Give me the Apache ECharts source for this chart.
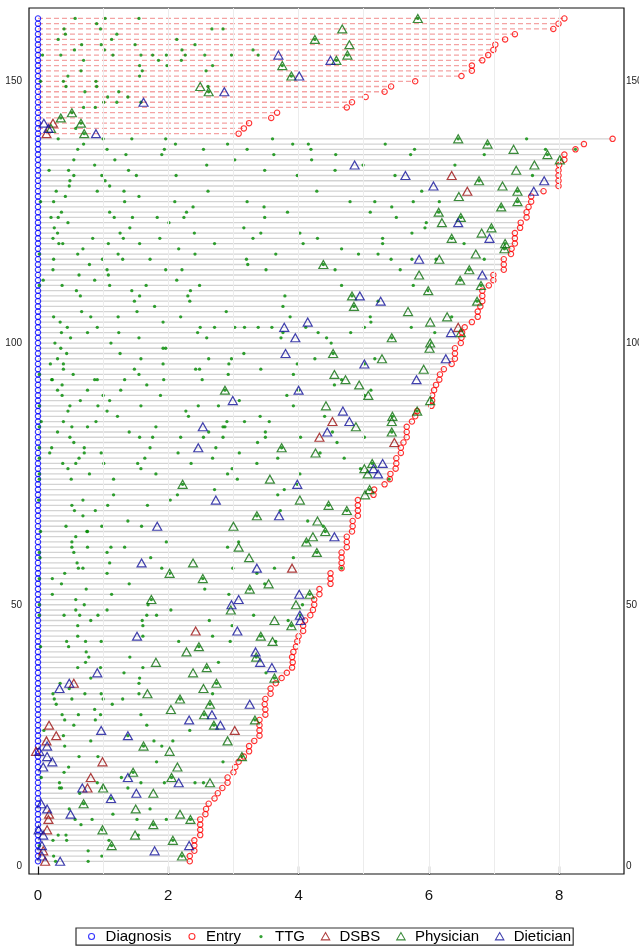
<!DOCTYPE html>
<html>
<head>
<meta charset="utf-8">
<script src="https://cdn.jsdelivr.net/npm/echarts@6/dist/echarts.min.js"></script>
<style>
  html, body { margin: 0; padding: 0; background: #fff; overflow: hidden; }
  #chart { width: 639px; height: 946px; }
</style>
</head>
<body>
<div id="chart"></div>
<script>
// Years from diagnosis to study entry, one value per patient row (row 1 at the bottom).
const entryYears = [
  2.33, 2.33, 2.40, 2.40, 2.40, 2.49, 2.49, 2.49, 2.49, 2.57,
  2.58, 2.62, 2.71, 2.76, 2.83, 2.91, 2.91, 3.00, 3.03, 3.08,
  3.16, 3.24, 3.24, 3.32, 3.40, 3.40, 3.40, 3.40, 3.49, 3.49,
  3.48, 3.49, 3.57, 3.57, 3.65, 3.74, 3.82, 3.90, 3.91, 3.90,
  3.92, 3.96, 3.98, 4.00, 4.07, 4.07, 4.10, 4.18, 4.22, 4.24,
  4.24, 4.32, 4.32, 4.49, 4.49, 4.49, 4.66, 4.66, 4.66, 4.66,
  4.74, 4.74, 4.74, 4.82, 4.83, 4.83, 4.91, 4.91, 4.91, 4.91,
  5.15, 5.16, 5.32, 5.40, 5.41, 5.49, 5.50, 5.50, 5.57, 5.57,
  5.61, 5.66, 5.66, 5.66, 5.74, 5.79, 5.82, 6.04, 6.05, 6.05,
  6.08, 6.11, 6.16, 6.17, 6.23, 6.35, 6.40, 6.40, 6.40, 6.49,
  6.50, 6.51, 6.55, 6.66, 6.75, 6.75, 6.79, 6.82, 6.82, 6.82,
  6.92, 6.99, 6.99, 7.15, 7.15, 7.15, 7.26, 7.27, 7.32, 7.32,
  7.32, 7.40, 7.41, 7.50, 7.50, 7.53, 7.57, 7.57, 7.76, 7.99,
  7.99, 7.99, 7.99, 8.00, 8.08, 8.08, 8.25, 8.38, 8.82,
  3.08, 3.16, 3.24, 3.58, 3.67, 4.74, 4.82, 5.03, 5.32, 5.42, 5.79,
  6.50, 6.66, 6.66, 6.82, 6.91, 6.99, 7.02, 7.17, 7.32, 7.91, 7.99, 8.08
];

// Every patient is aligned on the date of diagnosis.
const diagnosisYear = 0;

// Rows from this one upward form the second cohort (dashed follow-up lines).
const secondCohortFirstRow = 140;

// TTG measurements: [row, years...]
const ttgByRow = [
  [162, 0.57, 1.03, 1.55, 5.83], [161, 0.90], [160, 0.40, 0.96, 2.67, 2.84],
  [159, 0.42, 1.21], [158, 0.31, 1.13, 2.13, 4.25], [157, 0.67, 0.97, 1.49, 2.41],
  [156, 0.56, 1.02, 2.21, 3.30],
  [155, 0.07, 0.35, 1.15, 1.58, 1.76, 1.97, 2.26, 2.56, 2.97, 3.38, 4.75],
  [154, 0.70, 1.85, 2.20, 4.58], [153, 1.56, 1.98, 2.68, 3.75], [152, 0.66, 1.60, 2.58],
  [151, 0.46, 1.56, 3.89], [150, 0.04, 0.39, 0.89], [149, 0.43, 0.90, 2.61],
  [148, 0.72, 1.24, 2.62], [147, 1.07, 1.38], [146, 1.01, 1.21, 1.58], [145, 0.70, 0.88],
  [144, 0.52], [143, 0.35], [142, 0.66], [141, 0.58], [140, 0.71],
  [139, 0.31, 1.00, 1.44, 1.96, 3.60, 6.45, 7.50],
  [138, 0.70, 2.11, 2.91, 3.91, 4.15, 5.33, 6.90],
  [137, 0.61, 1.06, 1.94, 2.54, 3.21, 4.19, 5.78, 7.79, 8.25],
  [136, 1.35, 1.90, 3.62, 4.57, 5.72, 6.85, 7.82],
  [135, 0.55, 1.18, 3.02, 4.20, 8.01], [134, 0.87, 2.59, 4.99, 6.40],
  [133, 0.17, 0.47, 1.39, 3.48, 4.56],
  [132, 0.55, 0.98, 1.51, 2.12, 3.98, 5.48, 7.59],
  [131, 0.49, 1.03, 6.77], [130, 0.48, 1.10],
  [129, 0.28, 0.91, 1.32, 2.61, 4.28, 5.89, 7.36], [128, 0.42, 1.55],
  [127, 0.04, 0.24, 1.33, 2.10, 3.21, 4.79, 5.17, 5.76, 6.16, 7.36],
  [126, 2.38, 3.47, 5.43, 7.11], [125, 0.36, 1.10, 2.28, 3.83, 5.10, 6.15],
  [124, 0.20, 0.31, 1.17, 1.45, 1.83, 2.24, 3.48, 5.50, 6.49],
  [123, 0.46, 2.01, 5.96], [122, 0.25, 1.41, 3.16, 5.94, 6.96],
  [121, 0.30, 1.26, 2.40, 3.42, 4.02, 5.74],
  [120, 0.23, 0.84, 1.31, 1.87, 3.30, 4.29, 5.29, 6.35],
  [119, 0.32, 0.38, 1.08, 1.56, 2.71, 4.07, 5.29, 6.54, 7.17],
  [118, 0.69, 2.16, 4.66, 7.16], [117, 0.02, 0.61, 1.23, 2.41, 3.65, 4.92, 5.22],
  [116, 0.24, 0.99, 1.30, 1.72, 3.20, 5.42, 5.74, 6.11, 6.85],
  [115, 0.79, 3.22, 4.38], [114, 0.23, 1.06, 1.96, 2.21, 3.50, 4.56, 5.56, 6.62],
  [113, 0.63, 1.08], [112, 0.08, 0.87, 2.13, 6.48],
  [111, 0.02, 0.37, 1.10, 1.66, 2.48, 4.66, 5.76, 6.80],
  [110, 0.59, 1.44, 2.34, 5.99], [109, 0.65, 1.56, 2.30, 3.79, 4.82],
  [108, 1.48, 2.33, 5.22, 6.74], [107, 1.79, 3.76, 4.85], [106, 0.67, 1.52, 2.89],
  [105, 0.24, 0.81, 1.23, 2.19, 3.87, 5.10, 6.35], [104, 0.34, 1.92, 5.11],
  [103, 0.45, 0.91, 2.49, 2.71, 3.02, 3.17, 3.38, 3.59, 4.11, 5.01, 5.73],
  [102, 0.36, 0.76, 1.24, 2.45, 3.76, 4.30, 4.80, 6.09],
  [101, 0.50, 1.55, 2.59, 3.73, 4.43, 5.43], [100, 0.26, 1.12, 4.50, 6.02],
  [99, 0.35, 1.92, 1.96], [98, 0.44, 1.26, 3.16, 4.53],
  [97, 0.30, 1.58, 2.62, 2.97, 4.25, 5.17], [96, 0.19, 0.39, 1.92, 2.93, 3.98, 5.01],
  [95, 0.39, 1.48, 2.42, 2.48, 3.42], [94, 0.02, 0.54, 1.55, 2.92, 3.92],
  [93, 0.21, 0.22, 0.87, 0.91, 1.33, 1.93, 2.52, 4.66], [92, 0.37, 1.67, 4.55],
  [91, 0.30, 0.76, 1.27, 2.87, 4.00, 5.11], [90, 0.37, 1.00, 1.88, 3.82, 5.01],
  [89, 0.65, 1.10, 3.09, 6.02], [88, 0.02, 0.49, 0.92, 1.58, 2.46, 2.77, 3.92],
  [87, 0.46, 1.06, 2.27, 5.82], [86, 1.22, 2.31, 3.41, 4.40, 5.44],
  [85, 0.05, 0.39, 0.89, 2.90, 3.17, 3.55], [84, 0.02, 0.52, 0.76, 1.81, 2.84, 2.87],
  [83, 0.30, 1.40, 2.62, 3.49, 4.52, 5.43],
  [82, 0.49, 1.56, 1.76, 2.19, 2.54, 2.84, 3.49, 4.03, 5.01],
  [81, 0.55, 3.37, 4.59], [80, 0.02, 0.21, 0.71, 1.72, 2.73, 3.74],
  [79, 0.18, 0.71, 0.97, 2.15, 3.09, 4.33], [78, 0.02, 0.63, 1.64, 2.68, 3.68, 4.70],
  [77, 0.38, 0.58, 1.01, 1.53, 2.35, 3.36, 5.13], [76, 0.46, 1.58, 2.98, 4.95],
  [75, 0.02, 0.79, 1.81, 2.91, 4.02], [74, 0.02, 0.51, 1.16, 3.06, 5.39],
  [73, 2.22, 3.98], [72, 2.71, 3.78, 5.09], [71, 1.16, 2.14, 3.68], [70, 0.01, 0.69, 2.03],
  [69, 0.52, 1.07, 1.68, 4.46], [68, 0.56, 0.88, 3.72, 4.74], [67, 0.69, 3.36],
  [66, 1.38, 4.14], [65, 0.43, 0.98, 1.59, 4.38], [64, 0.04, 0.75, 0.76, 4.41],
  [63, 0.58], [62, 0.52, 1.97, 3.08, 4.12], [61, 0.52, 0.76, 1.12, 1.33, 2.91],
  [60, 0.02, 0.55, 1.06, 4.28], [59, 0.03, 1.73, 3.92], [58, 0.60, 1.10],
  [57, 0.62, 0.69, 1.90, 2.99, 3.63, 4.66], [56, 0.41, 1.06, 2.02, 3.36],
  [55, 0.02, 0.22, 2.53], [54, 0.36, 1.40, 3.48], [53, 0.74, 2.56, 3.25],
  [52, 0.22, 1.13, 2.93, 4.17], [51, 0.58, 1.74], [50, 0.02, 0.71, 1.69, 4.06],
  [49, 0.58, 1.06, 2.04], [48, 0.02, 0.40, 0.64, 0.92, 1.67, 1.82, 3.31, 4.02],
  [47, 0.81, 1.60, 2.63, 3.84], [46, 0.61, 1.61, 2.98, 3.89], [44, 0.61, 1.61, 2.68, 3.42],
  [43, 0.44, 0.73, 0.97, 2.16, 2.95, 3.65], [42, 0.04, 0.47, 2.47], [41, 0.74],
  [40, 0.78, 1.41, 3.35], [39, 0.73, 2.77], [38, 0.61, 0.96, 1.61, 2.59], [37, 1.32, 3.50],
  [36, 0.81, 1.56, 3.63], [35, 0.34, 1.55, 2.74], [34, 0.48],
  [33, 0.23, 0.72, 0.97, 1.55, 2.68], [32, 0.25, 0.52, 1.00, 1.30, 2.18],
  [31, 0.28, 1.14, 2.64], [30, 0.87], [29, 0.37, 0.62, 0.96, 1.58, 2.55],
  [28, 0.41, 0.88, 3.33], [27, 0.55, 1.67, 2.70], [26, 0.09, 2.33], [25, 0.39, 1.38],
  [24, 0.81, 1.78, 2.07], [23, 0.41, 1.62, 1.90], [21, 0.63, 0.92, 3.13], [20, 1.82, 2.84],
  [19, 0.47], [18, 0.40, 1.46], [17, 0.05, 1.28, 2.05], [16, 0.33, 0.91, 1.58, 1.94, 2.41, 2.54],
  [15, 0.33, 0.36, 1.00, 1.38], [14, 0.64], [13, 1.12], [12, 0.70], [11, 0.48, 1.72],
  [10, 1.15], [9, 0.57, 0.83, 1.52, 1.97, 2.34], [8, 0.66, 1.77], [7, 0.99],
  [6, 0.31, 0.43, 1.54], [5, 0.23, 0.44, 1.09, 2.07], [4, 0.02, 1.13], [3, 0.77],
  [2, 0.24, 0.98, 2.21], [1, 0.27, 0.77]
];

// Visits: [years, row]
const dsbsVisits = [
  [0.13, 140], [0.23, 142], [6.35, 132], [6.59, 129], [6.45, 103], [4.52, 85], [4.32, 82],
  [5.47, 81], [3.90, 57], [2.42, 45], [0.55, 35], [0.17, 27], [3.02, 26], [0.28, 25],
  [0.13, 24], [-0.03, 22], [0.99, 20], [0.81, 17], [0.76, 15], [0.17, 10], [0.16, 9],
  [0.14, 7], [0.08, 3], [0.11, 1]
];

const physicianVisits = [
  [5.83, 162], [4.67, 160], [4.25, 158], [4.78, 157], [4.75, 155], [4.58, 154], [3.75, 153],
  [3.89, 151], [2.49, 149], [2.62, 148], [0.52, 144], [0.35, 143], [0.66, 142], [0.20, 141],
  [0.71, 140], [6.45, 139], [6.90, 138], [7.30, 137], [7.82, 136], [8.01, 135], [7.62, 134],
  [7.34, 133], [6.77, 131], [7.13, 130], [7.36, 129], [6.46, 128], [7.36, 127], [7.11, 126],
  [6.15, 125], [6.49, 124], [6.20, 123], [6.96, 122], [6.81, 121], [6.35, 120], [7.17, 119],
  [7.16, 118], [6.72, 117], [6.16, 116], [4.38, 115], [6.62, 114], [5.85, 113], [6.48, 112],
  [6.80, 111], [5.99, 110], [4.82, 109], [6.74, 108], [4.85, 107], [5.68, 106], [6.28, 105],
  [6.02, 104], [6.49, 102], [5.43, 101], [6.02, 100], [6.01, 99], [4.53, 98], [5.28, 97],
  [5.92, 95], [4.55, 94], [4.72, 93], [4.93, 92], [2.87, 91], [5.07, 90], [6.02, 89],
  [4.42, 88], [5.82, 87], [5.44, 86], [5.43, 85], [4.88, 84], [5.43, 83], [3.74, 80],
  [4.26, 79], [5.13, 77], [5.01, 76], [5.06, 75], [3.56, 74], [2.22, 73], [5.09, 72],
  [5.02, 71], [4.02, 70], [4.46, 69], [4.74, 68], [3.36, 67], [4.29, 66], [3.00, 65],
  [4.41, 64], [4.22, 63], [4.12, 62], [3.08, 61], [4.28, 60], [3.24, 59], [2.38, 58],
  [2.02, 56], [2.53, 55], [3.54, 54], [3.25, 53], [4.17, 52], [1.74, 51], [3.96, 50],
  [2.96, 49], [3.63, 47], [3.89, 46], [3.42, 44], [3.60, 43], [2.47, 42], [2.28, 41],
  [3.35, 40], [1.81, 39], [2.59, 38], [2.38, 37], [3.63, 36], [2.74, 35], [2.54, 34],
  [1.68, 33], [2.18, 32], [2.64, 31], [2.04, 30], [2.55, 29], [3.33, 28], [2.70, 27],
  [2.91, 24], [1.62, 23], [2.02, 22], [3.13, 21], [2.14, 19], [1.46, 18], [2.05, 17],
  [2.64, 16], [1.00, 15], [1.77, 14], [0.70, 12], [1.50, 11], [2.18, 10], [2.34, 9],
  [1.77, 8], [0.99, 7], [1.49, 6], [2.07, 5], [1.13, 4], [2.21, 2]
];

const dieticianVisits = [
  [3.69, 155], [4.49, 154], [4.01, 151], [2.86, 148], [1.62, 146], [0.09, 142], [0.16, 141],
  [0.89, 140], [4.86, 134], [5.64, 132], [7.77, 131], [6.07, 130], [7.61, 129], [6.45, 123],
  [6.93, 120], [5.85, 116], [6.82, 113], [4.94, 109], [5.26, 108], [4.14, 104], [3.78, 103],
  [6.34, 102], [3.95, 101], [3.80, 98], [6.26, 97], [5.01, 96], [5.81, 93], [4.00, 91],
  [2.99, 89], [4.68, 87], [4.78, 85], [2.53, 84], [4.44, 83], [2.46, 80], [5.29, 77],
  [5.15, 76], [5.22, 75], [3.98, 73], [2.73, 70], [3.70, 67], [1.83, 65], [4.55, 63],
  [1.59, 58], [3.36, 57], [4.01, 52], [3.08, 51], [2.97, 50], [4.02, 48], [4.03, 47],
  [3.06, 45], [1.52, 44], [3.34, 41], [3.41, 39], [3.59, 38], [0.91, 37], [0.48, 35],
  [0.33, 34], [3.25, 31], [2.67, 29], [2.32, 28], [2.80, 27], [0.97, 26], [1.38, 25],
  [0.14, 23], [0.02, 22], [0.14, 21], [0.22, 20], [0.08, 19], [1.38, 17], [2.16, 16],
  [0.68, 15], [1.51, 14], [1.12, 13], [0.05, 12], [0.14, 11], [0.50, 10], [0.01, 7],
  [0.08, 6], [0.06, 4], [2.32, 4], [1.79, 3], [0.06, 2], [0.34, 1]
];

// Axis ticks and labels
const xTickValues = [0, 2, 4, 6, 8];
const yTickValues = [0, 50, 100, 150];
const yearGridLines = [1, 2, 3, 4, 5, 6, 7, 8];

// ---- build series data ----
const rowLines = entryYears.map((e, i) => [i + 1, e, (i + 1) >= secondCohortFirstRow ? 1 : 0]);
const diagnosisPoints = entryYears.map((e, i) => [diagnosisYear, i + 1]);
const entryPoints = entryYears.map((e, i) => [e, i + 1]);
const ttgPoints = [];
ttgByRow.forEach(([row, ...years]) => years.forEach(y => ttgPoints.push([y, row])));

const FONT = '"Liberation Sans", Arial, Helvetica, sans-serif';
const C = {
  diagnosis: '#0000ff',
  entry: '#ff0000',
  ttg: '#008b00',
  dsbs: '#9b0f0f',
  physician: '#0a6e0a',
  dietician: '#12129a',
  rowLine: '#d3d3d3',
  cohortLine: '#f4a3a3',
  grid: '#ececec'
};
const clear = 'rgba(0,0,0,0)';

// Legend icons drawn inside an 18x14 box so each marker keeps its own size.
const ICON_FRAME = 'M0,0M18,14';
const icons = {
  ring: 'path://' + ICON_FRAME + 'M12,7A3,3,0,1,1,6,7A3,3,0,1,1,12,7Z',
  dot: 'path://' + ICON_FRAME + 'M10.6,7A1.6,1.6,0,1,1,7.4,7A1.6,1.6,0,1,1,10.6,7Z',
  tri: 'path://' + ICON_FRAME + 'M9,3L13.2,10.3L4.8,10.3Z'
};

const X_MIN = -0.138, X_MAX = 8.995;
const Y_MIN = -1.43, Y_MAX = 164.0;

const chart = echarts.init(document.getElementById('chart'), null, { renderer: 'canvas' });

const triSeries = (name, data, color) => ({
  name, type: 'scatter', data, z: 5,
  symbol: 'triangle', symbolSize: [9, 8],
  itemStyle: { color: clear, borderColor: color, borderWidth: 1.2 },
  emphasis: { disabled: true }, silent: true
});

chart.setOption({
  animation: false,
  backgroundColor: '#fff',
  grid: {
    left: 29, right: 15, top: 8, bottom: 72,
    outerBoundsMode: 'none',
    containLabel: false,
    show: true, borderColor: '#111', borderWidth: 1.2, backgroundColor: clear
  },
  xAxis: {
    type: 'value', min: X_MIN, max: X_MAX,
    axisLine: { show: false },
    axisTick: { show: true, length: 8, customValues: xTickValues, lineStyle: { color: '#111', width: 1.2 } },
    axisLabel: { customValues: xTickValues, fontSize: 15, fontFamily: FONT, color: '#111', margin: 14 },
    splitLine: { show: false }
  },
  yAxis: [
    {
      type: 'value', min: Y_MIN, max: Y_MAX, position: 'left',
      axisLine: { show: false }, axisTick: { show: false }, splitLine: { show: false },
      axisLabel: { customValues: yTickValues, fontSize: 10, fontFamily: FONT, color: '#222', margin: 7 }
    },
    {
      type: 'value', min: Y_MIN, max: Y_MAX, position: 'right',
      axisLine: { show: false }, axisTick: { show: false }, splitLine: { show: false },
      axisLabel: { customValues: yTickValues, fontSize: 10, fontFamily: FONT, color: '#222', margin: 2 }
    }
  ],
  legend: {
    left: 76, top: 928,
    orient: 'horizontal',
    itemWidth: 18, itemHeight: 14, itemGap: 11,
    padding: [1, 2, 1, 6],
    borderColor: '#333', borderWidth: 1.2,
    selectedMode: false,
    textStyle: { fontFamily: FONT, fontSize: 15, color: '#000', lineHeight: 15 },
    itemStyle: { borderWidth: 1.1 },
    data: [
      { name: 'Diagnosis', icon: icons.ring },
      { name: 'Entry', icon: icons.ring },
      { name: 'TTG', icon: icons.dot, itemStyle: { borderWidth: 0 } },
      { name: 'DSBS', icon: icons.tri },
      { name: 'Physician', icon: icons.tri },
      { name: 'Dietician', icon: icons.tri }
    ]
  },
  series: [
    {
      // vertical reference lines at each whole year
      name: 'yearGrid', type: 'scatter', data: [], z: 1, silent: true,
      markLine: {
        silent: true, symbol: ['none', 'none'], animation: false,
        label: { show: false },
        lineStyle: { color: C.grid, width: 1, type: 'solid' },
        emphasis: { disabled: true },
        data: yearGridLines.map(v => ({ xAxis: v }))
      }
    },
    {
      // follow-up line from diagnosis to study entry for each patient
      name: 'followUp', type: 'custom', data: rowLines, z: 2, silent: true,
      encode: { x: 1, y: 0 },
      renderItem(params, api) {
        const row = api.value(0);
        const end = api.value(1);
        const dashed = api.value(2) === 1;
        const p0 = api.coord([diagnosisYear, row]);
        const p1 = api.coord([end, row]);
        return {
          type: 'line',
          shape: { x1: p0[0], y1: p0[1], x2: p1[0], y2: p1[1] },
          style: {
            stroke: dashed ? C.cohortLine : C.rowLine,
            lineWidth: 1.3,
            lineDash: dashed ? [5, 3] : null
          }
        };
      }
    },
    {
      name: 'Diagnosis', type: 'scatter', data: diagnosisPoints, z: 3,
      symbol: 'circle', symbolSize: 5.4,
      itemStyle: { color: clear, borderColor: C.diagnosis, borderWidth: 1.1 },
      emphasis: { disabled: true }, silent: true
    },
    {
      name: 'Entry', type: 'scatter', data: entryPoints, z: 3,
      symbol: 'circle', symbolSize: 5.4,
      itemStyle: { color: clear, borderColor: C.entry, borderWidth: 1.1 },
      emphasis: { disabled: true }, silent: true
    },
    {
      name: 'TTG', type: 'scatter', data: ttgPoints, z: 4,
      symbol: 'circle', symbolSize: 3.3,
      itemStyle: { color: C.ttg },
      emphasis: { disabled: true }, silent: true
    },
    triSeries('DSBS', dsbsVisits, C.dsbs),
    triSeries('Physician', physicianVisits, C.physician),
    triSeries('Dietician', dieticianVisits, C.dietician)
  ]
});
</script>
</body>
</html>
